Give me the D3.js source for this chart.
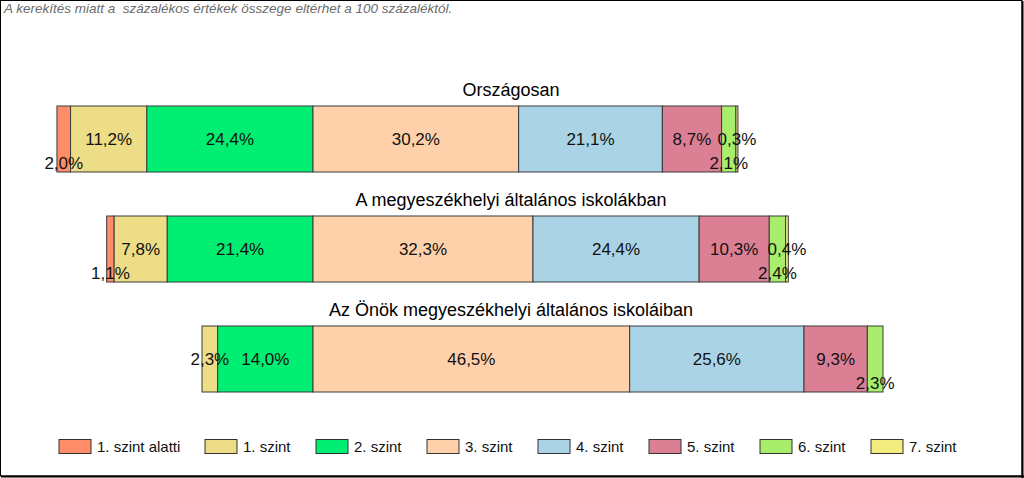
<!DOCTYPE html>
<html>
<head>
<meta charset="utf-8">
<script src="https://cdn.jsdelivr.net/npm/d3@7"></script>
<style>
  body { margin: 0; background: #fff; }
  svg { display: block; font-family: "Liberation Sans", Arial, sans-serif; }
</style>
</head>
<body>
<svg id="chart" width="1024" height="478"></svg>
<script>
// === data === //
var categories = ["1. szint alatti", "1. szint", "2. szint", "3. szint", "4. szint", "5. szint", "6. szint", "7. szint"]
var groups = ["Országosan", "A megyeszékhelyi általános iskolákban", "Az Önök megyeszékhelyi általános iskoláiban"]
var orszagosan = [2.0, 11.2, 24.4, 30.2, 21.1, 8.7, 2.1, 0.3]
var megyeszekhelyi = [1.1, 7.8, 21.4, 32.3, 24.4, 10.3, 2.4, 0.4]
var onok = [0, 2.3, 14.0, 46.5, 25.6, 9.3, 2.3, 0]
var note = "A kerekítés miatt a  százalékos értékek összege eltérhet a 100 százaléktól."

var colors = ["#ff8d69", "#ecdd86", "#00ef73", "#ffd1aa", "#aad4e6", "#db7f94", "#a8ee6c", "#f3ec7e"]

var series = [orszagosan, megyeszekhelyi, onok]

// levels left of 3. szint go to the negative side
var splitAt = 3

var svg = d3.select("#chart")

// frame
svg.append("rect").attr("x", 0.5).attr("y", 0.5).attr("width", 1021.5).attr("height", 475.5)
  .attr("fill", "#fff").attr("stroke", "#000").attr("stroke-width", 1)
svg.append("line").attr("x1", 1022.5).attr("x2", 1022.5).attr("y1", 1).attr("y2", 478).attr("stroke", "#000").attr("stroke-width", 2)
svg.append("line").attr("x1", 1).attr("x2", 1024).attr("y1", 476.5).attr("y2", 476.5).attr("stroke", "#000").attr("stroke-width", 2)

svg.append("text")
  .attr("x", 4).attr("y", 13)
  .attr("font-size", 13.5).attr("font-style", "italic").attr("fill", "#6b6b6b")
  .attr("xml:space", "preserve")
  .style("white-space", "pre")
  .text(note)

var x = d3.scaleLinear().domain([-40, 70]).range([40.6, 789.7])
var y = d3.scaleBand().domain(groups).range([106, 392]).paddingInner(0.4).paddingOuter(0)

// stacked segments
var rows = []
series.forEach(function(vals, gi) {
  var neg = 0
  for (var i = 0; i < splitAt; i++) neg += vals[i]
  var start = -neg
  vals.forEach(function(v, ci) {
    rows.push({ group: groups[gi], cat: ci, v: v, x0: start, x1: start + v })
    start += v
  })
})

var g = svg.append("g")

g.selectAll("text.title")
  .data(groups)
  .enter().append("text")
  .attr("class", "title")
  .attr("x", 511)
  .attr("y", function(d) { return y(d) - 10 })
  .attr("text-anchor", "middle")
  .attr("font-size", 18)
  .attr("fill", "#000")
  .text(function(d) { return d })

g.selectAll("rect.seg")
  .data(rows.filter(function(d) { return d.v > 0 }))
  .enter().append("rect")
  .attr("class", "seg")
  .attr("x", function(d) { return x(d.x0) })
  .attr("width", function(d) { return x(d.x1) - x(d.x0) })
  .attr("y", function(d) { return y(d.group) })
  .attr("height", y.bandwidth())
  .attr("fill", function(d) { return colors[d.cat] })
  .attr("stroke", "#3a3a3a")
  .attr("stroke-width", 1)

// narrow segments of the edge levels drop their label lower
function dropped(d) {
  var w = x(d.x1) - x(d.x0)
  return w < 30 && (d.cat === 0 || d.cat === 6)
}

g.selectAll("text.lbl")
  .data(rows.filter(function(d) { return d.v > 0 }))
  .enter().append("text")
  .attr("class", "lbl")
  .attr("x", function(d) { return (x(d.x0) + x(d.x1)) / 2 })
  .attr("y", function(d) { return y(d.group) + y.bandwidth() / 2 + (dropped(d) ? 24 : 0) })
  .attr("dy", "0.36em")
  .attr("text-anchor", "middle")
  .attr("font-size", 17)
  .attr("fill", "#111")
  .text(function(d) { return d3.format(".1f")(d.v).replace(".", ",") + "%" })

// legend
var legend = svg.append("g")
var lx = 59
categories.forEach(function(c, i) {
  var item = legend.append("g").attr("transform", "translate(" + lx + ",439.5)")
  item.append("rect").attr("width", 32).attr("height", 14)
    .attr("fill", colors[i]).attr("stroke", "#333").attr("stroke-width", 1)
  var t = item.append("text").attr("x", 38).attr("y", 12.5)
    .attr("font-size", 15).attr("fill", "#111").text(c)
  var w = t.node().getComputedTextLength()
  lx += Math.max(110, Math.round(38 + w + 25))
})
</script>
</body>
</html>
